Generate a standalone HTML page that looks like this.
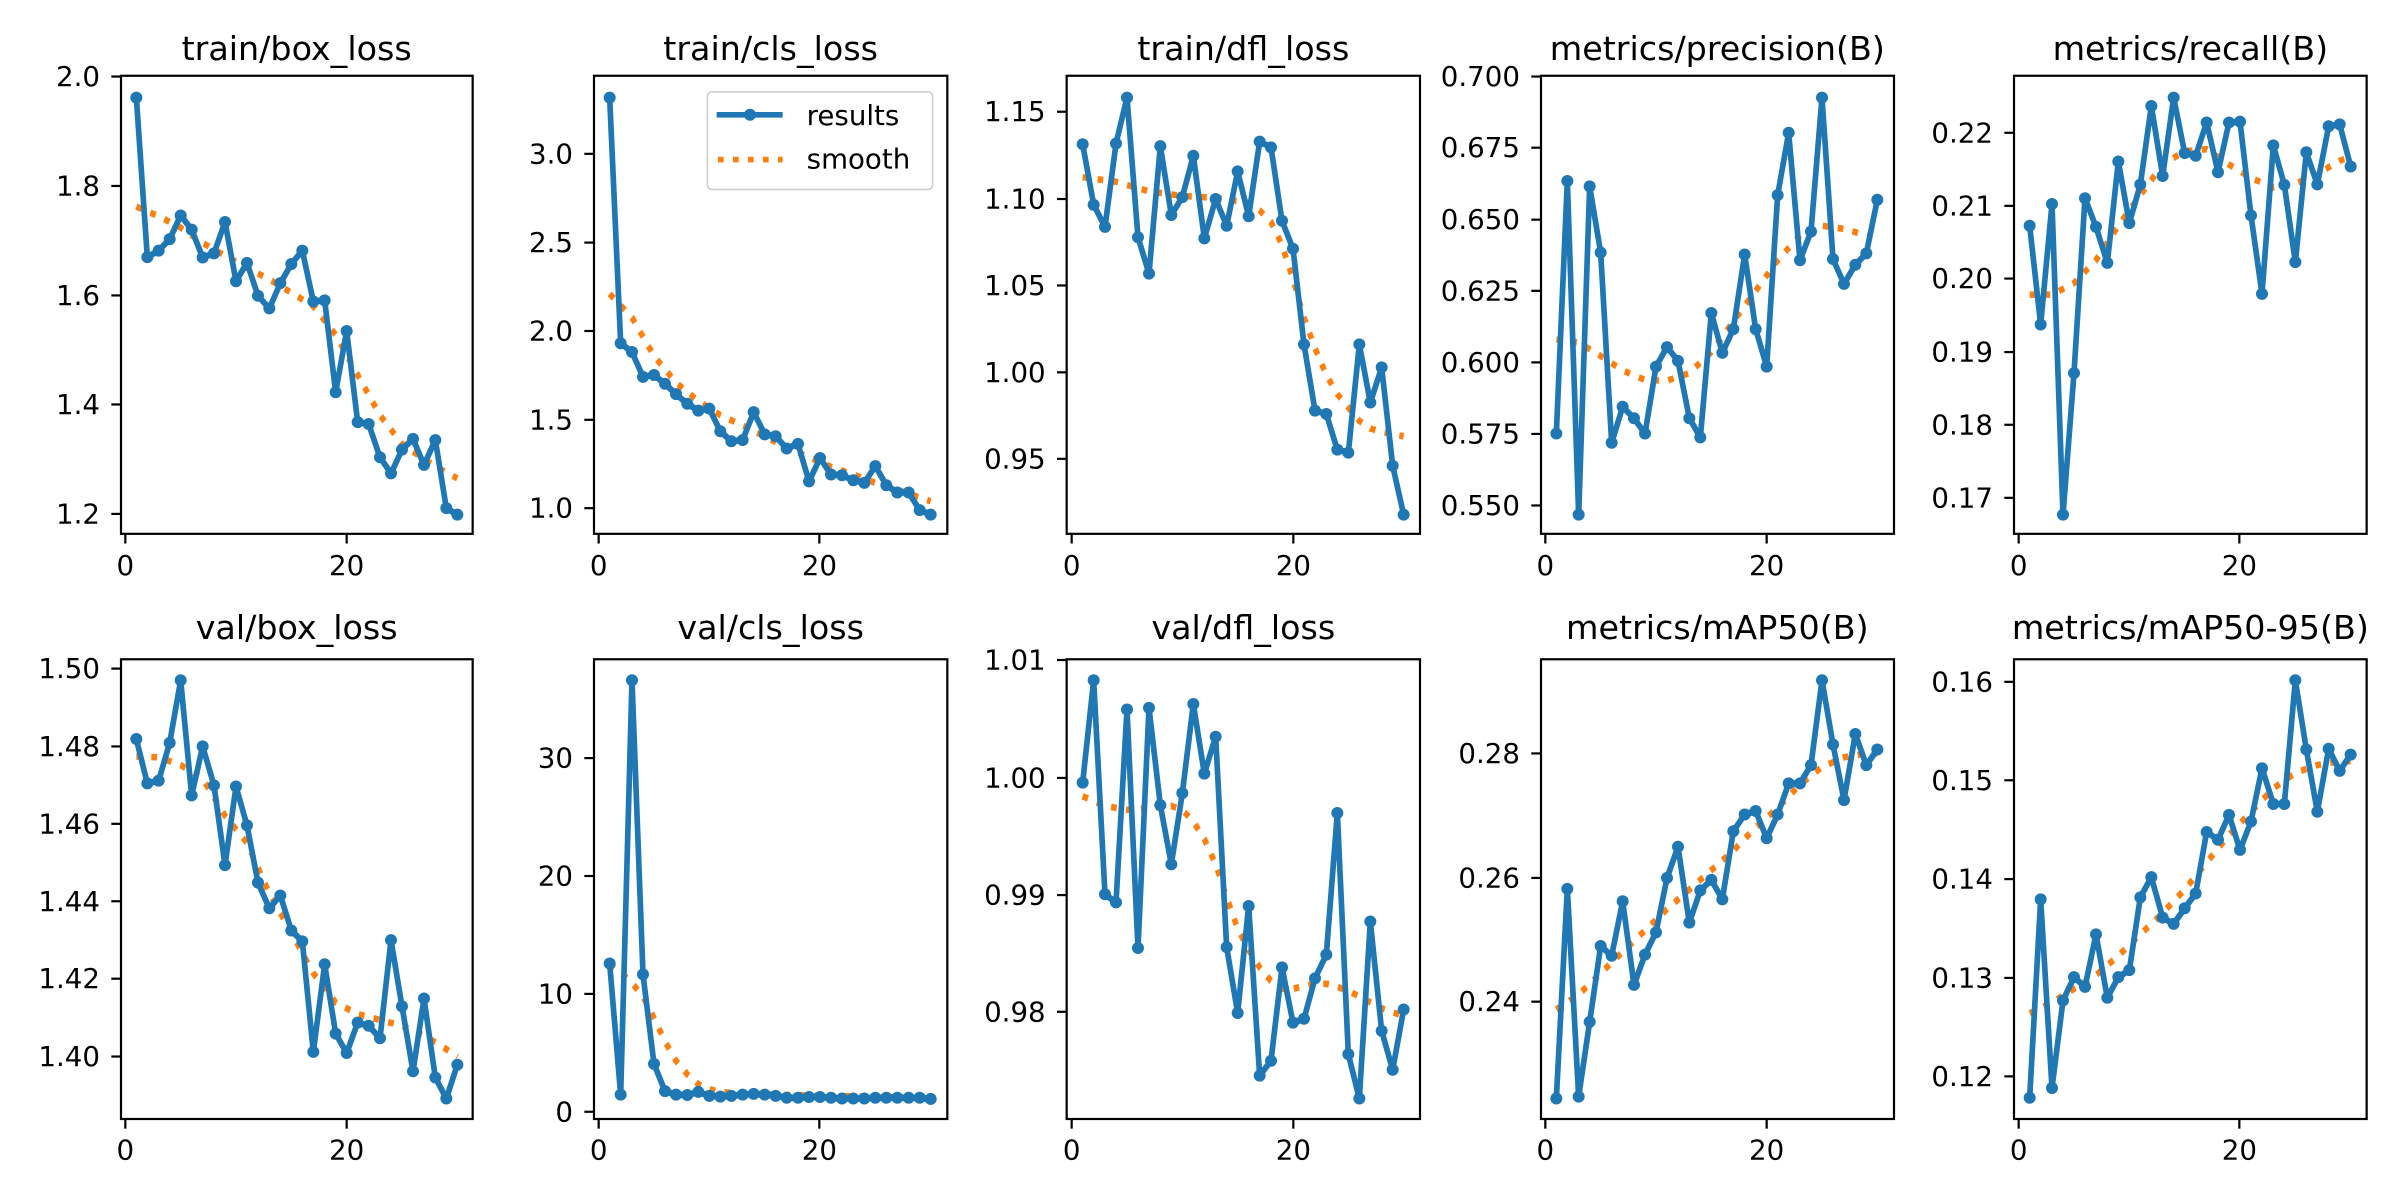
<!DOCTYPE html>
<html><head><meta charset="utf-8"><style>
html,body{margin:0;padding:0;background:#fff;}
svg{display:block;}
text{font-family:"DejaVu Sans","Liberation Sans",sans-serif;fill:#000;}
.t{font-size:100px;text-anchor:middle;}
.yl{font-size:83px;text-anchor:end;dominant-baseline:central;}
.xl{font-size:83px;text-anchor:middle;}
.fr{fill:none;stroke:#000;stroke-width:6.6;}
.tk{stroke:#000;stroke-width:6.6;}
.r{fill:none;stroke:#1f77b4;stroke-width:17;stroke-linejoin:round;}
.r1{marker-start:url(#m1);marker-mid:url(#m1);marker-end:url(#m1);}
.r2{marker-start:url(#m2);marker-mid:url(#m2);marker-end:url(#m2);}
.s{fill:none;stroke:#ff7f0e;stroke-width:17;stroke-dasharray:17 28;}
</style></head><body>
<svg width="2400" height="1200" viewBox="0 0 2400 1200" xmlns="http://www.w3.org/2000/svg">
<defs>
<marker id="m1" markerUnits="userSpaceOnUse" markerWidth="40" markerHeight="34.84" refX="20" refY="20" viewBox="0 0 40 40" preserveAspectRatio="none"><circle cx="20" cy="20" r="18" fill="#1f77b4"/></marker>
<marker id="m2" markerUnits="userSpaceOnUse" markerWidth="40" markerHeight="34.27" refX="20" refY="20" viewBox="0 0 40 40" preserveAspectRatio="none"><circle cx="20" cy="20" r="18" fill="#1f77b4"/></marker>
</defs>

<!-- P1 -->
<g transform="translate(0,0) scale(0.33333)">
<text class="t" x="890" y="180">train/box_loss</text>
<rect class="fr" x="363" y="227.3" width="1055" height="1374.2"/>
<g class="tk"><line x1="334" x2="363" y1="229.6" y2="229.6"/><line x1="334" x2="363" y1="557.9" y2="557.9"/><line x1="334" x2="363" y1="886.3" y2="886.3"/><line x1="334" x2="363" y1="1213.4" y2="1213.4"/><line x1="334" x2="363" y1="1541.8" y2="1541.8"/><line x1="376" x2="376" y1="1601.5" y2="1630.5"/><line x1="1040" x2="1040" y1="1601.5" y2="1630.5"/></g>
<text class="yl" x="300" y="229.6">2.0</text><text class="yl" x="300" y="557.9">1.8</text><text class="yl" x="300" y="886.3">1.6</text><text class="yl" x="300" y="1213.4">1.4</text><text class="yl" x="300" y="1541.8">1.2</text>
<text class="xl" x="376" y="1725">0</text><text class="xl" x="1040" y="1725">20</text>
<g transform="translate(376,0) scale(1,1.148)">
<polyline class="s" points="33,540 100,565 166,595 232,635 299,668 365,700 432,730 498,765 564,800 631,875 697,980 764,1085 830,1160 896,1200 963,1235 996,1250"/>
<polyline class="r r1" points="33,255 66,672 100,655 133,625 166,563 199,600 232,673 266,662 299,580 332,735 365,687 398,773 432,806 465,740 498,690 531,655 564,788 598,785 631,1025 664,865 697,1103 730,1108 764,1195 797,1237 830,1175 863,1147 896,1215 930,1150 963,1328 996,1345"/>
</g></g>

<!-- P2 -->
<g transform="translate(480,0) scale(0.33333)">
<text class="t" x="872" y="180">train/cls_loss</text>
<rect class="fr" x="342" y="227.3" width="1060" height="1374.2"/>
<g class="tk"><line x1="313" x2="342" y1="461.5" y2="461.5"/><line x1="313" x2="342" y1="727.8" y2="727.8"/><line x1="313" x2="342" y1="993" y2="993"/><line x1="313" x2="342" y1="1259.4" y2="1259.4"/><line x1="313" x2="342" y1="1524.5" y2="1524.5"/><line x1="356" x2="356" y1="1601.5" y2="1630.5"/><line x1="1018" x2="1018" y1="1601.5" y2="1630.5"/></g>
<text class="yl" x="279" y="461.5">3.0</text><text class="yl" x="279" y="727.8">2.5</text><text class="yl" x="279" y="993">2.0</text><text class="yl" x="279" y="1259.4">1.5</text><text class="yl" x="279" y="1524.5">1.0</text>
<text class="xl" x="356" y="1725">0</text><text class="xl" x="1018" y="1725">20</text>
<g transform="translate(356,0) scale(1,1.148)">
<polyline class="s" points="33,768 100,830 166,930 232,1000 299,1048 365,1085 432,1112 498,1140 564,1170 631,1195 697,1220 764,1240 830,1262 896,1280 963,1300 996,1310"/>
<polyline class="r r1" points="33,255 66,897 100,920 133,985 166,980 199,1003 232,1030 266,1055 299,1073 332,1068 365,1127 398,1153 432,1150 465,1077 498,1135 531,1140 564,1172 598,1160 631,1258 664,1197 697,1240 730,1242 764,1255 797,1262 830,1218 863,1268 896,1287 930,1287 963,1333 996,1345"/>
</g>
<rect x="682" y="275.5" width="676" height="293" rx="14" fill="#fff" fill-opacity="0.8" stroke="#d0d0d0" stroke-width="5"/>
<line x1="710" x2="908" y1="344.4" y2="344.4" stroke="#1f77b4" stroke-width="17"/><circle cx="810" cy="344.4" r="18" fill="#1f77b4"/>
<line x1="714" x2="908" y1="478.7" y2="478.7" stroke="#ff7f0e" stroke-width="17" stroke-dasharray="17 28"/>
<text x="980" y="375" style="font-size:83px">results</text>
<text x="980" y="505" style="font-size:83px">smooth</text>
</g>

<!-- P3 -->
<g transform="translate(950,0) scale(0.33333)">
<text class="t" x="880" y="180">train/dfl_loss</text>
<rect class="fr" x="350" y="227.3" width="1060" height="1374.2"/>
<g class="tk"><line x1="321" x2="350" y1="335.2" y2="335.2"/><line x1="321" x2="350" y1="597" y2="597"/><line x1="321" x2="350" y1="856.4" y2="856.4"/><line x1="321" x2="350" y1="1117" y2="1117"/><line x1="321" x2="350" y1="1376.5" y2="1376.5"/><line x1="365" x2="365" y1="1601.5" y2="1630.5"/><line x1="1030" x2="1030" y1="1601.5" y2="1630.5"/></g>
<text class="yl" x="287" y="335.2">1.15</text><text class="yl" x="287" y="597">1.10</text><text class="yl" x="287" y="856.4">1.05</text><text class="yl" x="287" y="1117">1.00</text><text class="yl" x="287" y="1376.5">0.95</text>
<text class="xl" x="365" y="1725">0</text><text class="xl" x="1030" y="1725">20</text>
<g transform="translate(365,0) scale(1,1.148)">
<polyline class="s" points="33,463 133,475 232,500 332,512 432,517 531,530 564,550 598,580 631,640 664,730 697,830 730,910 764,980 797,1030 830,1065 863,1100 896,1120 930,1128 963,1135 996,1140"/>
<polyline class="r r1" points="33,377 66,535 100,593 133,375 166,255 199,620 232,715 266,382 299,562 332,515 365,407 398,623 432,520 465,590 498,448 531,565 564,370 598,385 631,577 664,650 697,900 730,1073 764,1082 797,1175 830,1183 863,900 896,1052 930,960 963,1217 996,1345"/>
</g></g>

<!-- P4 -->
<g transform="translate(1430,0) scale(0.33333)">
<text class="t" x="862" y="180">metrics/precision(B)</text>
<rect class="fr" x="333" y="227.3" width="1059" height="1374.2"/>
<g class="tk"><line x1="304" x2="333" y1="229.6" y2="229.6"/><line x1="304" x2="333" y1="443.1" y2="443.1"/><line x1="304" x2="333" y1="659" y2="659"/><line x1="304" x2="333" y1="872.5" y2="872.5"/><line x1="304" x2="333" y1="1087.2" y2="1087.2"/><line x1="304" x2="333" y1="1301.8" y2="1301.8"/><line x1="304" x2="333" y1="1516.5" y2="1516.5"/><line x1="346" x2="346" y1="1601.5" y2="1630.5"/><line x1="1010" x2="1010" y1="1601.5" y2="1630.5"/></g>
<text class="yl" x="270" y="229.6">0.700</text><text class="yl" x="270" y="443.1">0.675</text><text class="yl" x="270" y="659">0.650</text><text class="yl" x="270" y="872.5">0.625</text><text class="yl" x="270" y="1087.2">0.600</text><text class="yl" x="270" y="1301.8">0.575</text><text class="yl" x="270" y="1516.5">0.550</text>
<text class="xl" x="346" y="1725">0</text><text class="xl" x="1010" y="1725">20</text>
<g transform="translate(346,0) scale(1,1.148)">
<polyline class="s" points="33,887 100,895 166,930 232,968 299,993 365,995 432,975 498,920 564,840 631,760 697,680 764,615 830,590 896,598 963,615 996,620"/>
<polyline class="r r1" points="33,1133 66,473 100,1345 133,487 166,660 199,1157 232,1063 266,1093 299,1133 332,958 365,907 398,943 432,1093 465,1143 498,818 531,922 564,860 598,665 631,860 664,958 697,510 730,347 764,680 797,605 830,255 863,677 896,742 930,692 963,662 996,522"/>
</g></g>

<!-- P5 -->
<g transform="translate(1900,0) scale(0.33333)">
<text class="t" x="871" y="180">metrics/recall(B)</text>
<rect class="fr" x="342" y="227.3" width="1058" height="1374.2"/>
<g class="tk"><line x1="313" x2="342" y1="398.4" y2="398.4"/><line x1="313" x2="342" y1="617.6" y2="617.6"/><line x1="313" x2="342" y1="835.7" y2="835.7"/><line x1="313" x2="342" y1="1056.2" y2="1056.2"/><line x1="313" x2="342" y1="1274.3" y2="1274.3"/><line x1="313" x2="342" y1="1493.5" y2="1493.5"/><line x1="356" x2="356" y1="1601.5" y2="1630.5"/><line x1="1018" x2="1018" y1="1601.5" y2="1630.5"/></g>
<text class="yl" x="279" y="398.4">0.22</text><text class="yl" x="279" y="617.6">0.21</text><text class="yl" x="279" y="835.7">0.20</text><text class="yl" x="279" y="1056.2">0.19</text><text class="yl" x="279" y="1274.3">0.18</text><text class="yl" x="279" y="1493.5">0.17</text>
<text class="xl" x="356" y="1725">0</text><text class="xl" x="1018" y="1725">20</text>
<g transform="translate(356,0) scale(1,1.148)">
<polyline class="s" points="33,770 100,770 166,740 232,680 299,590 365,510 432,430 498,395 564,390 631,430 697,465 764,490 830,480 896,455 963,420 996,410"/>
<polyline class="r r1" points="33,590 66,848 100,533 133,1345 166,975 199,518 232,593 266,687 299,422 332,583 365,482 398,277 432,460 465,255 498,400 531,407 564,320 598,450 631,320 664,318 697,563 730,768 764,380 797,483 830,685 863,398 896,482 930,330 963,325 996,435"/>
</g></g>

<!-- P6 -->
<g transform="translate(0,590) scale(0.33333)">
<text class="t" x="890" y="147">val/box_loss</text>
<rect class="fr" x="363" y="207.8" width="1055" height="1379.2"/>
<g class="tk"><line x1="334" x2="363" y1="235.8" y2="235.8"/><line x1="334" x2="363" y1="469.3" y2="469.3"/><line x1="334" x2="363" y1="701.5" y2="701.5"/><line x1="334" x2="363" y1="933.8" y2="933.8"/><line x1="334" x2="363" y1="1166.1" y2="1166.1"/><line x1="334" x2="363" y1="1399.6" y2="1399.6"/><line x1="376" x2="376" y1="1587" y2="1616"/><line x1="1040" x2="1040" y1="1587" y2="1616"/></g>
<text class="yl" x="300" y="235.8">1.50</text><text class="yl" x="300" y="469.3">1.48</text><text class="yl" x="300" y="701.5">1.46</text><text class="yl" x="300" y="933.8">1.44</text><text class="yl" x="300" y="1166.1">1.42</text><text class="yl" x="300" y="1399.6">1.40</text>
<text class="xl" x="376" y="1708">0</text><text class="xl" x="1040" y="1708">20</text>
<g transform="translate(376,0) scale(1,1.1673)">
<polyline class="s" points="33,428 100,430 166,450 232,485 299,580 365,650 432,780 498,880 564,985 631,1060 697,1090 764,1105 830,1120 896,1145 963,1180 996,1200"/>
<polyline class="r r2" points="33,383 66,497 100,490 133,393 166,232 199,528 232,402 266,502 299,707 332,505 365,605 398,752 432,818 465,785 498,875 531,903 564,1187 598,962 631,1140 664,1190 697,1112 730,1120 764,1152 797,900 830,1070 863,1237 896,1050 930,1253 963,1307 996,1220"/>
</g></g>

<!-- P7 -->
<g transform="translate(480,590) scale(0.33333)">
<text class="t" x="872" y="147">val/cls_loss</text>
<rect class="fr" x="342" y="207.8" width="1060" height="1379.2"/>
<g class="tk"><line x1="313" x2="342" y1="504.3" y2="504.3"/><line x1="313" x2="342" y1="858" y2="858"/><line x1="313" x2="342" y1="1211.7" y2="1211.7"/><line x1="313" x2="342" y1="1565.3" y2="1565.3"/><line x1="356" x2="356" y1="1587" y2="1616"/><line x1="1018" x2="1018" y1="1587" y2="1616"/></g>
<text class="yl" x="279" y="504.3">30</text><text class="yl" x="279" y="858">20</text><text class="yl" x="279" y="1211.7">10</text><text class="yl" x="279" y="1565.3">0</text>
<text class="xl" x="356" y="1708">0</text><text class="xl" x="1018" y="1708">20</text>
<g transform="translate(356,0) scale(1,1.1673)">
<polyline class="s" points="33,962 66,983 100,1010 133,1045 166,1100 199,1160 232,1210 266,1245 299,1270 332,1283 365,1290 432,1295 664,1300 996,1305"/>
<polyline class="r r2" points="33,960 66,1297 100,232 133,988 166,1218 199,1288 232,1297 266,1298 299,1290 332,1300 365,1302 398,1300 432,1297 465,1295 498,1297 531,1300 564,1305 598,1305 631,1303 664,1303 697,1305 730,1307 764,1307 797,1307 830,1305 863,1305 896,1305 930,1305 963,1305 996,1308"/>
</g></g>

<!-- P8 -->
<g transform="translate(950,590) scale(0.33333)">
<text class="t" x="880" y="147">val/dfl_loss</text>
<rect class="fr" x="350" y="207.8" width="1060" height="1379.2"/>
<g class="tk"><line x1="321" x2="350" y1="210.1" y2="210.1"/><line x1="321" x2="350" y1="563.8" y2="563.8"/><line x1="321" x2="350" y1="915.2" y2="915.2"/><line x1="321" x2="350" y1="1265.4" y2="1265.4"/><line x1="365" x2="365" y1="1587" y2="1616"/><line x1="1030" x2="1030" y1="1587" y2="1616"/></g>
<text class="yl" x="287" y="210.1">1.01</text><text class="yl" x="287" y="563.8">1.00</text><text class="yl" x="287" y="915.2">0.99</text><text class="yl" x="287" y="1265.4">0.98</text>
<text class="xl" x="365" y="1708">0</text><text class="xl" x="1030" y="1708">20</text>
<g transform="translate(365,0) scale(1,1.1673)">
<polyline class="s" points="33,530 100,555 166,565 232,560 299,555 332,565 365,595 398,640 432,705 465,790 498,870 531,925 564,970 598,1005 631,1025 664,1025 697,1018 730,1012 764,1012 797,1020 830,1030 863,1045 896,1060 930,1075 963,1085 996,1095"/>
<polyline class="r r2" points="33,495 66,232 100,782 133,803 166,307 199,920 232,303 266,553 299,705 332,522 365,293 398,472 432,377 465,918 498,1087 531,812 564,1248 598,1210 631,970 664,1112 697,1102 730,998 764,937 797,573 830,1193 863,1307 896,852 930,1133 963,1233 996,1078"/>
</g></g>

<!-- P9 -->
<g transform="translate(1430,590) scale(0.33333)">
<text class="t" x="862" y="147">metrics/mAP50(B)</text>
<rect class="fr" x="333" y="207.8" width="1059" height="1379.2"/>
<g class="tk"><line x1="304" x2="333" y1="490.3" y2="490.3"/><line x1="304" x2="333" y1="863.8" y2="863.8"/><line x1="304" x2="333" y1="1235" y2="1235"/><line x1="346" x2="346" y1="1587" y2="1616"/><line x1="1010" x2="1010" y1="1587" y2="1616"/></g>
<text class="yl" x="270" y="490.3">0.28</text><text class="yl" x="270" y="863.8">0.26</text><text class="yl" x="270" y="1235">0.24</text>
<text class="xl" x="346" y="1708">0</text><text class="xl" x="1010" y="1708">20</text>
<g transform="translate(346,0) scale(1,1.1673)">
<polyline class="s" points="33,1078 100,1040 166,985 232,930 299,875 365,820 432,770 498,720 564,670 631,610 697,560 764,500 830,455 896,430 963,420 996,420"/>
<polyline class="r r2" points="33,1307 66,768 100,1302 133,1110 166,915 199,940 232,800 266,1015 299,937 332,880 365,740 398,660 432,855 465,772 498,745 531,795 564,620 598,577 631,568 664,638 697,577 730,497 764,497 797,450 830,232 863,397 896,540 930,370 963,450 996,410"/>
</g></g>

<!-- P10 -->
<g transform="translate(1900,590) scale(0.33333)">
<text class="t" x="871" y="147">metrics/mAP50-95(B)</text>
<rect class="fr" x="342" y="207.8" width="1058" height="1379.2"/>
<g class="tk"><line x1="313" x2="342" y1="275.5" y2="275.5"/><line x1="313" x2="342" y1="570.8" y2="570.8"/><line x1="313" x2="342" y1="867.3" y2="867.3"/><line x1="313" x2="342" y1="1163.8" y2="1163.8"/><line x1="313" x2="342" y1="1459.1" y2="1459.1"/><line x1="356" x2="356" y1="1587" y2="1616"/><line x1="1018" x2="1018" y1="1587" y2="1616"/></g>
<text class="yl" x="279" y="275.5">0.16</text><text class="yl" x="279" y="570.8">0.15</text><text class="yl" x="279" y="867.3">0.14</text><text class="yl" x="279" y="1163.8">0.13</text><text class="yl" x="279" y="1459.1">0.12</text>
<text class="xl" x="356" y="1708">0</text><text class="xl" x="1018" y="1708">20</text>
<g transform="translate(356,0) scale(1,1.1673)">
<polyline class="s" points="33,1088 100,1060 166,1025 232,990 299,940 365,885 432,830 498,770 564,700 631,630 697,570 764,510 830,470 896,450 963,440 996,440"/>
<polyline class="r r2" points="33,1305 66,795 100,1280 133,1055 166,995 199,1020 232,885 266,1048 299,995 332,977 365,790 398,738 432,842 465,858 498,818 531,780 564,622 598,642 631,578 664,668 697,595 730,458 764,550 797,550 830,232 863,410 896,570 930,408 963,465 996,423"/>
</g></g>
</svg>
</body></html>
